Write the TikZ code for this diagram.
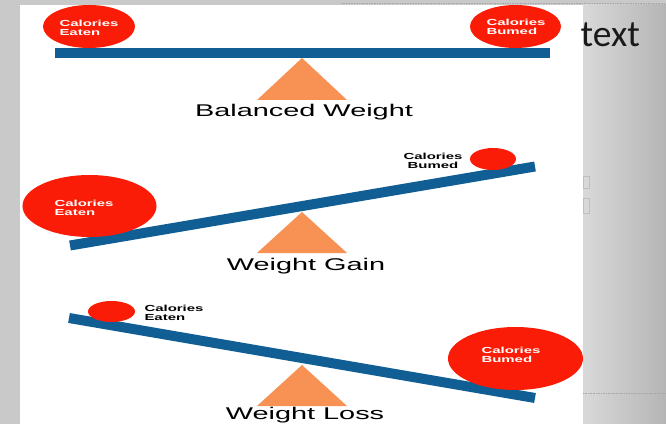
\documentclass[tikz,border=0pt]{standalone}
\usepackage{fontspec}
\setmainfont{Liberation Sans}
\newfontfamily\slidefont{Carlito}
\usetikzlibrary{shapes.geometric}
\definecolor{beamblue}{RGB}{16,94,148}
\definecolor{calred}{RGB}{250,28,6}
\definecolor{pivotorange}{RGB}{247,145,84}
\newcommand{\wide}[1]{\scalebox{1.7}[1]{#1}}
\begin{document}
\begin{tikzpicture}[
   x=0.03cm,y=-0.03cm,
   beam/.style={line width=3mm,beamblue},
   pivot/.style={fill=pivotorange},
   weight/.style={ellipse,fill=calred,inner sep=0pt},
   tag/.style={font=\bfseries\fontsize{7.5}{7.8}\selectfont,inner sep=0pt,align=left},
   caption/.style={font=\fontsize{14.5}{16}\selectfont,anchor=base,inner sep=0pt},
   seam/.style={gray!70,densely dotted,line width=0.4pt}]
\useasboundingbox (0,0) rectangle (666,424);
% slide background
\fill[black!21] (0,0) rectangle (666,424);
\fill[left color=black!15,right color=black!29] (583,5) rectangle (666,424);
\fill[white] (20,5) rectangle (583,424);
\draw[seam] (341,3) -- (666,3);
\draw[seam] (583,393) -- (666,393);
\draw[black!25] (583,176) rectangle (589,188);
\draw[black!25] (583,198) rectangle (589,213);
\node[font=\slidefont\fontsize{32}{35}\selectfont,anchor=base west,inner sep=0pt,text=black!90] (label) at (580.5,46.5) {text};

% balanced
\coordinate (A1) at (302,58);
\fill[pivot] (A1) -- ++(-45,42) -- ++(90,0) -- cycle;
\coordinate (L1) at (55,53);
\coordinate (R1) at (550,53);
\draw[beam] (L1) -- (R1);
\node[weight,minimum width=2.76cm,minimum height=1.29cm] (E1) at (89,26.5) {};
\node[weight,minimum width=2.73cm,minimum height=1.29cm] (B1) at (515.5,26.5) {};
\node[tag,text=white] (tE1) at (89,27.5) {\wide{Calories}\\\wide{Eaten}};
\node[tag,text=white] (tB1) at (516,26.5) {\wide{Calories}\\\wide{Bumed}};
\node[caption] (c1) at (304,117) {\wide{Balanced Weight}};

% gain
\coordinate (A2) at (302,212);
\fill[pivot] (A2) -- ++(-45,41) -- ++(90,0) -- cycle;
\coordinate (L2) at (70,245.5);
\coordinate (R2) at (535,166.5);
\draw[beam] (L2) -- (R2);
\node[weight,minimum width=4.02cm,minimum height=1.86cm] (E2) at (89.5,206) {};
\node[weight,minimum width=1.38cm,minimum height=0.66cm] (B2) at (493,159) {};
\node[tag,text=white] (tE2) at (84,207.5) {\wide{Calories}\\\wide{Eaten}};
\node[tag,align=center] (tB2) at (433,160.5) {\wide{Calories}\\\wide{Bumed}};
\node[caption] (c2) at (306,270.5) {\wide{Weight Gain}};

% loss
\coordinate (A3) at (302,365);
\fill[pivot] (A3) -- ++(-45,41) -- ++(90,0) -- cycle;
\coordinate (L3) at (69,318);
\coordinate (R3) at (535,398);
\draw[beam] (L3) -- (R3);
\node[weight,minimum width=1.41cm,minimum height=0.63cm] (E3) at (111.5,311.5) {};
\node[weight,minimum width=4.05cm,minimum height=1.89cm] (B3) at (515.5,358.5) {};
\node[tag] (tE3) at (174,313) {\wide{Calories}\\\wide{Eaten}};
\node[tag,text=white] (tB3) at (511,355) {\wide{Calories}\\\wide{Bumed}};
\node[caption] (c3) at (305,419.5) {\wide{Weight Loss}};
\end{tikzpicture}
\end{document}
